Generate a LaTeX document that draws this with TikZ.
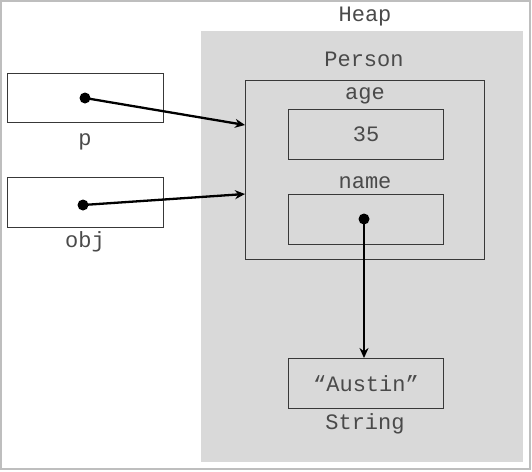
\documentclass[tikz,border=0pt]{standalone}
\usepackage{fontspec}
\setmonofont{Liberation Mono}
\usetikzlibrary{arrows.meta, positioning}
\definecolor{heapgray}{HTML}{D9D9D9}
\definecolor{framegray}{HTML}{BEBEBE}
\definecolor{inkgray}{HTML}{383838}
\definecolor{textgray}{HTML}{4A4A4A}

\begin{document}
\begin{tikzpicture}[
    x=1pt, y=-1pt,
    cellbox/.style={rectangle, draw=inkgray, line width=1pt, minimum width=155pt, minimum height=50pt, inner sep=0pt, anchor=north west},
    tag/.style={font=\ttfamily\fontsize{22}{22}\selectfont, text=textgray, inner sep=0pt},
    pdot/.style={circle, fill=black, minimum size=11pt, inner sep=0pt},
    ref/.style={line width=2.3pt, -{Stealth[length=10pt, width=9pt]}}
]
    \useasboundingbox (0,0) rectangle (532,471);
    \draw[framegray, line width=2pt] (1,1) rectangle (530,469);

    % heap area
    \node (heap) [fill=heapgray, minimum width=322pt, minimum height=431pt, inner sep=0pt, anchor=north west] at (201,31) {};
    \node (heaptag) [tag] at (365,17) {Heap};

    % object on the heap
    \node (person) [rectangle, draw=inkgray, line width=1pt, minimum width=239pt, minimum height=179pt, inner sep=0pt, anchor=north west] at (245,80) {};
    \node (persontag) [tag] at (364,59) {Person};
    \node (age)  [cellbox] at (288,109) {};
    \node (agetag) [tag] at (365,96) {age};
    \node (ageval) [tag] at (age.center) {35};
    \node (name) [cellbox] at (288,194) {};
    \node (nametag) [tag] at (365,183) {name};
    \node (austin) [cellbox] at (288,358) {};
    \node (austinval) [tag] at (austin.center) {“Austin”};
    \node (stringtag) [tag] at (365,424) {String};

    % stack variables
    \node (p)   [cellbox, minimum width=156pt, minimum height=49pt] at (7,73) {};
    \node (ptag) [tag] at (85,142) {p};
    \node (obj) [cellbox, minimum width=156pt] at (7,177) {};
    \node (objtag) [tag] at (85,242) {obj};

    \node (pdot)    [pdot] at (85,98) {};
    \node (objdot)  [pdot] at (83,205) {};
    \node (namedot) [pdot] at (364,219) {};
    \coordinate (pin)   at (245,125);
    \coordinate (objin) at (245,194);

    \draw [ref] (pdot.center) -- (pin);
    \draw [ref] (objdot.center) -- (objin);
    \draw [ref] (namedot.center) -- (namedot.center |- austin.north);
\end{tikzpicture}
\end{document}
